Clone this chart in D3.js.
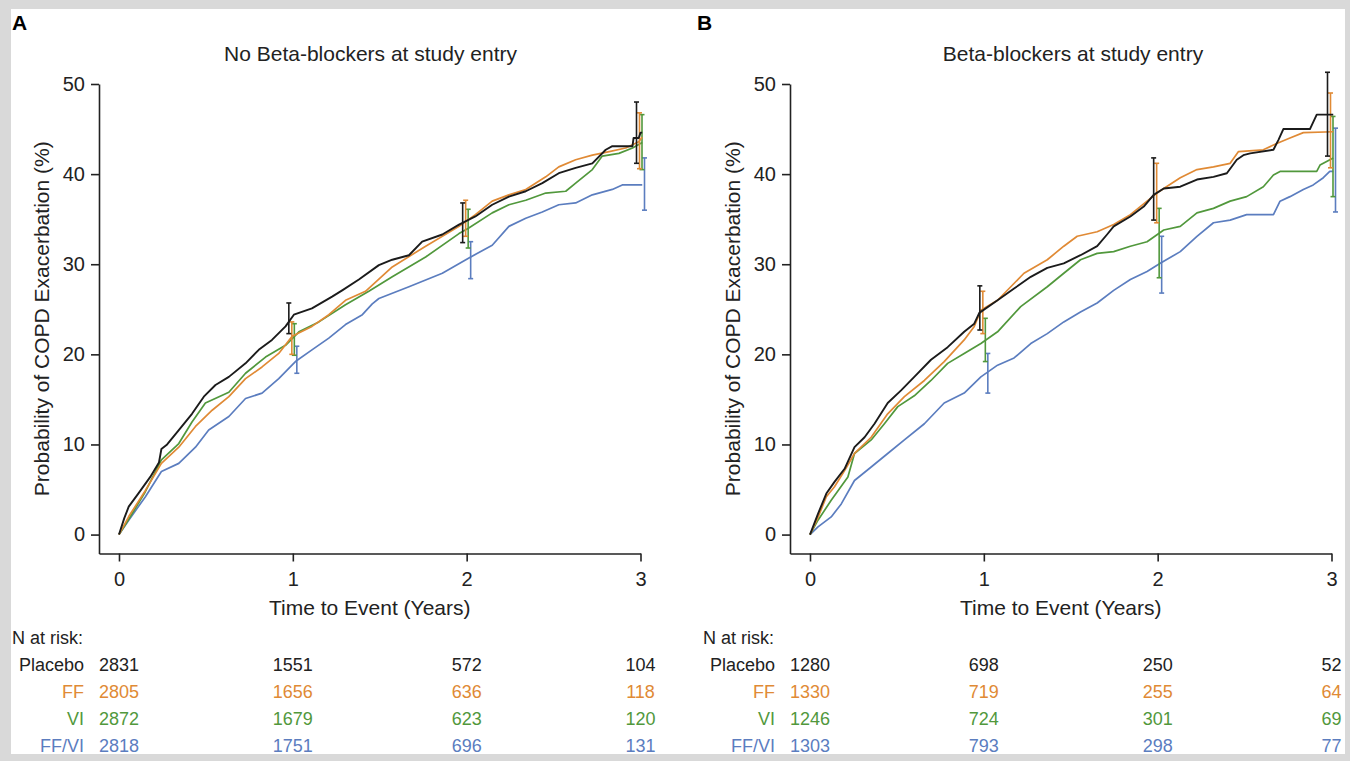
<!DOCTYPE html>
<html>
<head>
<meta charset="utf-8">
<script src="https://cdn.jsdelivr.net/npm/d3@7"></script>
<style>
  html, body { margin: 0; padding: 0; background: #d9d9d9; }
  svg { display: block; font-family: "Liberation Sans", Arial, Helvetica, sans-serif; }
</style>
</head>
<body>
<div id="chart"></div>
<script>
// groups shown in both panels
var groups = ["Placebo", "FF", "VI", "FF/VI"];
var groupColors = ["#1b1b1b", "#e08a35", "#51983c", "#5b7dbf"];

var xTicks = [0, 1, 2, 3];
var yTicks = [0, 10, 20, 30, 40, 50];
var ciYears = [1, 2, 3];
var riskYears = [0, 1, 2, 3];

// ---- panel A : no beta-blockers, curves as [years, %]
var placeboA = [[0,0],[0.03,1.8],[0.056,3.1],[0.113,4.6],[0.18,6.4],[0.23,8.0],[0.244,9.5],[0.277,10.0],[0.344,11.6],[0.42,13.4],[0.488,15.3],[0.555,16.6],[0.632,17.5],[0.728,19.0],[0.804,20.5],[0.88,21.6],[0.958,23.1],[1.006,24.4],[1.11,25.1],[1.226,26.4],[1.284,27.1],[1.38,28.3],[1.495,29.9],[1.572,30.5],[1.668,31.0],[1.744,32.5],[1.86,33.3],[1.956,34.4],[2.05,35.3],[2.147,36.6],[2.243,37.5],[2.34,38.1],[2.435,39.0],[2.53,40.1],[2.627,40.7],[2.723,41.2],[2.8,42.7],[2.838,43.1],[2.954,43.1],[2.96,44.0],[2.99,44.0],[3.0,44.6],[3.01,44.6]];
var ffA = [[0,0],[0.056,2.0],[0.152,4.9],[0.244,7.9],[0.344,9.7],[0.44,12.0],[0.536,13.8],[0.632,15.3],[0.728,17.3],[0.823,18.6],[0.919,20.1],[0.996,22.0],[1.11,23.1],[1.207,24.4],[1.303,26.0],[1.418,27.0],[1.572,29.7],[1.764,32.0],[1.956,34.2],[2.05,35.5],[2.147,37.0],[2.243,37.7],[2.34,38.3],[2.455,39.7],[2.53,40.8],[2.627,41.6],[2.723,42.1],[2.82,42.5],[2.915,42.9],[2.99,43.6],[3.01,44.1]];
var viA = [[0,0],[0.056,1.7],[0.15,4.7],[0.244,8.3],[0.344,10.1],[0.42,12.5],[0.497,14.6],[0.632,15.8],[0.728,17.9],[0.843,19.7],[0.958,21.0],[1.035,22.5],[1.15,23.6],[1.303,25.5],[1.437,27.0],[1.572,28.6],[1.764,30.8],[1.956,33.4],[2.01,34.0],[2.147,35.7],[2.243,36.6],[2.34,37.1],[2.455,37.9],[2.57,38.1],[2.627,39.0],[2.723,40.5],[2.78,42.0],[2.876,42.3],[2.954,42.9],[3.01,43.5]];
var ffviA = [[0,0],[0.056,1.6],[0.152,4.2],[0.244,7.0],[0.344,7.9],[0.44,9.7],[0.516,11.6],[0.632,13.1],[0.728,15.1],[0.823,15.7],[0.919,17.3],[1.015,19.2],[1.11,20.5],[1.207,21.8],[1.303,23.3],[1.40,24.4],[1.457,25.6],[1.495,26.2],[1.668,27.5],[1.86,29.0],[2.013,30.7],[2.147,32.1],[2.243,34.2],[2.34,35.1],[2.435,35.8],[2.53,36.6],[2.627,36.8],[2.723,37.7],[2.838,38.3],[2.895,38.8],[3.01,38.8]];

// 95% CI [low, high] at years 1, 2, 3
var ciPlaceboA = [[22.3,25.7],[32.4,36.8],[41.2,48.0]];
var ciFfA = [[20.0,23.6],[33.1,37.1],[40.6,46.8]];
var ciViA = [[19.9,23.4],[31.8,36.1],[40.5,46.6]];
var ciFfviA = [[17.9,20.9],[28.4,32.5],[36.0,41.8]];

var riskPlaceboA = [2831, 1551, 572, 104];
var riskFfA = [2805, 1656, 636, 118];
var riskViA = [2872, 1679, 623, 120];
var riskFfviA = [2818, 1751, 696, 131];

// ---- panel B : beta-blockers
var placeboB = [[0,0],[0.046,2.3],[0.094,4.55],[0.141,5.85],[0.199,7.3],[0.256,9.7],[0.314,10.8],[0.371,12.3],[0.447,14.6],[0.524,16.0],[0.6,17.5],[0.696,19.4],[0.792,20.8],[0.887,22.5],[0.945,23.4],[0.974,24.6],[1.079,26.0],[1.174,27.3],[1.27,28.6],[1.365,29.6],[1.46,30.1],[1.556,31.0],[1.652,32.0],[1.709,33.3],[1.747,34.2],[1.843,35.3],[1.92,36.4],[1.977,37.7],[2.035,38.4],[2.13,38.6],[2.226,39.4],[2.321,39.7],[2.398,40.1],[2.455,41.6],[2.493,42.1],[2.532,42.3],[2.666,42.7],[2.695,43.8],[2.723,45.0],[2.876,45.0],[2.915,46.6],[3.01,46.6]];
var ffB = [[0,0],[0.046,1.9],[0.094,4.2],[0.141,5.3],[0.199,7.1],[0.256,9.0],[0.352,10.8],[0.447,13.4],[0.543,15.3],[0.658,17.1],[0.772,19.2],[0.887,21.6],[0.945,23.1],[0.983,24.9],[1.079,26.0],[1.231,29.0],[1.365,30.5],[1.46,32.0],[1.537,33.1],[1.652,33.6],[1.747,34.4],[1.843,35.5],[1.939,37.0],[1.996,37.9],[2.035,38.4],[2.13,39.6],[2.226,40.5],[2.321,40.8],[2.417,41.2],[2.465,42.5],[2.608,42.7],[2.685,43.4],[2.761,44.0],[2.838,44.6],[3.01,44.7]];
var viB = [[0,0],[0.046,1.6],[0.122,3.8],[0.218,6.4],[0.256,9.0],[0.352,10.5],[0.428,12.3],[0.505,14.2],[0.6,15.4],[0.696,17.1],[0.792,19.0],[0.887,20.1],[0.983,21.2],[1.079,22.5],[1.212,25.3],[1.365,27.5],[1.46,29.0],[1.556,30.5],[1.652,31.2],[1.747,31.4],[1.843,32.0],[1.939,32.5],[2.035,33.8],[2.13,34.2],[2.226,35.7],[2.321,36.2],[2.417,37.0],[2.512,37.5],[2.608,38.6],[2.666,39.9],[2.704,40.3],[2.915,40.3],[2.934,41.0],[3.01,41.8]];
var ffviB = [[0,0],[0.046,0.85],[0.122,1.96],[0.18,3.4],[0.256,6.0],[0.352,7.5],[0.447,9.0],[0.543,10.5],[0.658,12.3],[0.772,14.6],[0.887,15.7],[0.983,17.5],[1.079,18.8],[1.174,19.6],[1.27,21.2],[1.365,22.3],[1.46,23.6],[1.556,24.7],[1.652,25.7],[1.747,27.1],[1.843,28.3],[1.939,29.2],[2.015,30.1],[2.13,31.4],[2.226,33.1],[2.321,34.6],[2.417,34.9],[2.512,35.5],[2.666,35.5],[2.704,37.0],[2.761,37.5],[2.838,38.3],[2.895,38.8],[2.953,39.6],[2.99,40.3],[3.01,40.3]];

var ciPlaceboB = [[22.7,27.6],[34.9,41.8],[42.0,51.3]];
var ciFfB = [[22.3,27.0],[34.6,41.2],[40.7,49.0]];
var ciViB = [[19.2,24.0],[28.5,36.2],[37.5,46.4]];
var ciFfviB = [[15.7,20.1],[26.8,33.1],[35.8,45.1]];

var riskPlaceboB = [1280, 698, 250, 52];
var riskFfB = [1330, 719, 255, 64];
var riskViB = [1246, 724, 301, 69];
var riskFfviB = [1303, 793, 298, 77];

var WIDTH = 1350, HEIGHT = 761;
var dodge = [-4, -1, 1.5, 4]; // px shift of the CI bars per group

var svg = d3.select("#chart").append("svg")
    .attr("width", WIDTH)
    .attr("height", HEIGHT);

// grey frame of the original figure
svg.append("rect").attr("width", WIDTH).attr("height", HEIGHT).attr("fill", "#d9d9d9");
svg.append("rect").attr("x", 11).attr("y", 9).attr("width", 1334).attr("height", 745).attr("fill", "#fff");

svg.append("clipPath").attr("id", "inner")
    .append("rect").attr("x", 11).attr("y", 9).attr("width", 1334).attr("height", 745);

var root = svg.append("g").attr("clip-path", "url(#inner)");

function drawPanel(left, letter, letterX, title, titleX, curves, cis, risks) {
    var g = root.append("g").attr("transform", "translate(" + left + ",0)");

    var x = d3.scaleLinear().domain([-0.115, 3]).range([99, 640.5]);
    var y = d3.scaleLinear().domain([-2.1, 50]).range([553.5, 84]);

    g.append("text").attr("x", letterX).attr("y", 30)
        .style("font-size", "21px").style("font-weight", "bold")
        .text(letter);

    g.append("text").attr("x", titleX).attr("y", 61)
        .attr("text-anchor", "middle").style("font-size", "21px").attr("fill", "#222")
        .text(title);

    var yAxis = g.append("g").attr("transform", "translate(99,0)")
        .call(d3.axisLeft(y).tickValues(yTicks).tickSize(8).tickSizeOuter(0).tickPadding(6));
    var xAxis = g.append("g").attr("transform", "translate(0,553.5)")
        .call(d3.axisBottom(x).tickValues(xTicks).tickFormat(d3.format("d"))
            .tickSize(8).tickSizeOuter(0).tickPadding(10));

    [yAxis, xAxis].forEach(function (a) {
        a.selectAll("path, line").attr("stroke", "#222").attr("stroke-width", 1.6);
        a.selectAll("text").attr("fill", "#222").style("font-size", "20px")
            .style("font-family", "'Liberation Sans', Arial, sans-serif");
    });

    g.append("text")
        .attr("transform", "translate(42," + (84 + 553.5) / 2 + ")rotate(-90)")
        .attr("text-anchor", "middle").attr("dy", "0.35em")
        .style("font-size", "21px").attr("fill", "#222")
        .text("Probability of COPD Exacerbation (%)");

    g.append("text").attr("x", (99 + 640.5) / 2).attr("y", 608).attr("dy", "0.35em")
        .attr("text-anchor", "middle").style("font-size", "21px").attr("fill", "#222")
        .text("Time to Event (Years)");

    var line = d3.line()
        .x(function (d) { return x(d[0]); })
        .y(function (d) { return y(d[1]); });

    // draw blue first so black ends on top
    [3, 2, 1, 0].forEach(function (i) {
        g.append("path")
            .datum(curves[i])
            .attr("d", line)
            .attr("fill", "none")
            .attr("stroke", groupColors[i])
            .attr("stroke-width", i === 0 ? 1.9 : 1.7)
            .attr("stroke-linejoin", "round");

        var bars = g.append("g").attr("stroke", groupColors[i]).attr("stroke-width", 1.6);
        cis[i].forEach(function (c, k) {
            var cx = x(ciYears[k]) + dodge[i];
            bars.append("line").attr("x1", cx).attr("x2", cx).attr("y1", y(c[0])).attr("y2", y(c[1]));
            bars.append("line").attr("x1", cx - 2.5).attr("x2", cx + 2.5).attr("y1", y(c[0])).attr("y2", y(c[0]));
            bars.append("line").attr("x1", cx - 2.5).attr("x2", cx + 2.5).attr("y1", y(c[1])).attr("y2", y(c[1]));
        });
    });

    // numbers at risk
    g.append("text").attr("x", 12).attr("y", 638).attr("dy", "0.35em")
        .style("font-size", "18px").attr("fill", "#222").text("N at risk:");

    groups.forEach(function (name, i) {
        var rowY = 665 + i * 26.8;
        g.append("text").attr("x", 84).attr("y", rowY).attr("dy", "0.35em")
            .attr("text-anchor", "end").style("font-size", "18px")
            .attr("fill", i === 0 ? "#222" : groupColors[i]).text(name);
        g.selectAll(null).data(risks[i]).enter().append("text")
            .attr("x", function (d, k) { return x(riskYears[k]); })
            .attr("y", rowY).attr("dy", "0.35em")
            .attr("text-anchor", "middle").style("font-size", "18px")
            .attr("fill", i === 0 ? "#222" : groupColors[i])
            .text(function (d) { return d; });
    });
}

drawPanel(0, "A", 12, "No Beta-blockers at study entry", 370.5,
    [placeboA, ffA, viA, ffviA],
    [ciPlaceboA, ciFfA, ciViA, ciFfviA],
    [riskPlaceboA, riskFfA, riskViA, riskFfviA]);

drawPanel(691, "B", 6, "Beta-blockers at study entry", 382,
    [placeboB, ffB, viB, ffviB],
    [ciPlaceboB, ciFfB, ciViB, ciFfviB],
    [riskPlaceboB, riskFfB, riskViB, riskFfviB]);
</script>
</body>
</html>
